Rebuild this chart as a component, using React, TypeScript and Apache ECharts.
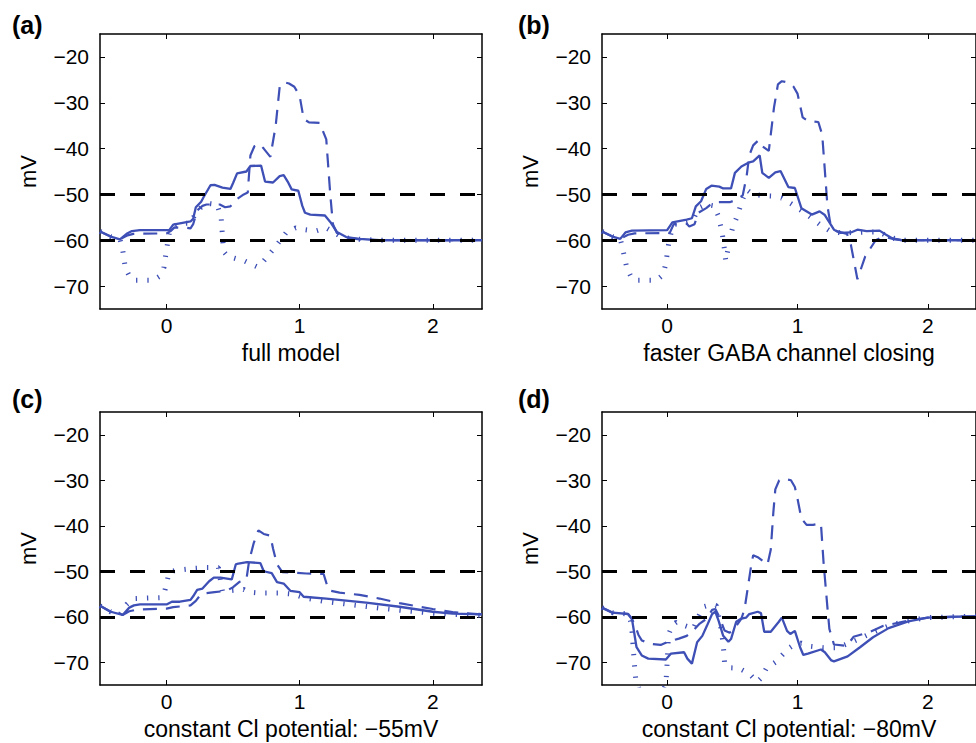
import React, { useEffect, useRef } from 'react';
import * as echarts from 'echarts';

// ---------- data ----------
const xTicks = [0, 1, 2];
const yTicks = [-70, -60, -50, -40, -30, -20];
const thresholds = [-50, -60];
const xMin = -0.5;
const xMax = 2.37;
const yMin = -75;
const yMax = -15;

// panel (a) full model  [time, mV]
const aSolid = [[-0.5,-58.1],[-0.42,-59.2],[-0.35,-59.8],[-0.3,-58.6],[-0.26,-58.0],[-0.2,-57.8],[0.02,-57.8],[0.05,-56.6],[0.1,-56.3],[0.18,-55.9],[0.2,-55.3],[0.22,-52.8],[0.26,-51.6],[0.28,-50.5],[0.33,-48.0],[0.36,-47.9],[0.42,-48.5],[0.48,-48.8],[0.5,-47.5],[0.53,-45.4],[0.6,-45.0],[0.63,-43.8],[0.71,-43.7],[0.74,-47.2],[0.8,-47.4],[0.85,-46.0],[0.88,-45.8],[0.91,-47.2],[0.94,-48.9],[0.99,-49.2],[1.02,-52.5],[1.04,-54.0],[1.08,-54.4],[1.19,-54.6],[1.23,-56.0],[1.28,-58.2],[1.35,-59.3],[1.45,-59.7],[1.6,-60.0],[2.37,-60.0]];
const aDashed = [[-0.5,-58.1],[-0.42,-59.2],[-0.35,-59.8],[-0.3,-59.0],[-0.25,-58.6],[0.0,-58.5],[0.03,-58.0],[0.06,-57.2],[0.15,-57.3],[0.18,-57.4],[0.2,-56.5],[0.23,-53.5],[0.27,-52.5],[0.3,-52.2],[0.4,-52.2],[0.44,-52.8],[0.48,-52.6],[0.53,-51.0],[0.58,-50.0],[0.61,-49.6],[0.63,-41.5],[0.66,-39.5],[0.7,-39.0],[0.73,-40.0],[0.78,-41.8],[0.82,-35.0],[0.85,-26.5],[0.88,-25.5],[0.92,-25.8],[0.96,-26.5],[1.0,-28.5],[1.03,-33.5],[1.07,-34.3],[1.15,-34.4],[1.2,-38.0],[1.23,-50.0],[1.25,-56.5],[1.28,-58.4],[1.35,-59.4],[1.45,-59.8],[1.6,-60.0],[2.37,-60.0]];
const aDotted = [[-0.5,-58.1],[-0.42,-59.2],[-0.35,-59.8],[-0.33,-62.0],[-0.31,-66.0],[-0.28,-67.8],[-0.24,-68.7],[-0.1,-68.7],[-0.05,-67.8],[-0.02,-66.0],[0.0,-62.0],[0.02,-58.5],[0.05,-57.0],[0.1,-56.3],[0.18,-56.3],[0.22,-54.0],[0.27,-52.5],[0.32,-52.0],[0.38,-52.2],[0.41,-55.0],[0.42,-59.0],[0.43,-62.5],[0.46,-63.5],[0.52,-64.0],[0.57,-64.3],[0.62,-65.0],[0.68,-65.8],[0.73,-64.5],[0.79,-62.4],[0.85,-60.2],[0.9,-58.3],[0.97,-57.3],[1.04,-57.7],[1.12,-58.0],[1.2,-57.3],[1.26,-58.3],[1.32,-59.4],[1.45,-59.8],[1.6,-60.0],[2.37,-60.0]];

// panel (b) faster GABA channel closing
const bSolid = [[-0.5,-58.1],[-0.42,-59.2],[-0.36,-59.7],[-0.32,-58.3],[-0.27,-57.9],[0.0,-57.8],[0.04,-56.1],[0.15,-55.5],[0.19,-55.2],[0.22,-52.6],[0.26,-51.5],[0.3,-48.8],[0.34,-48.1],[0.4,-48.3],[0.43,-48.7],[0.49,-48.7],[0.52,-45.3],[0.57,-43.9],[0.63,-43.0],[0.66,-42.8],[0.71,-41.5],[0.73,-45.3],[0.78,-46.4],[0.83,-45.2],[0.87,-44.9],[0.93,-48.4],[0.98,-48.6],[1.03,-53.0],[1.11,-54.4],[1.17,-53.7],[1.21,-54.5],[1.28,-57.7],[1.33,-58.4],[1.41,-58.3],[1.46,-57.7],[1.53,-58.0],[1.63,-57.9],[1.68,-58.8],[1.73,-59.6],[1.8,-60.0],[2.37,-60.0]];
const bDashed = [[-0.5,-58.1],[-0.42,-59.2],[-0.36,-59.7],[-0.3,-58.8],[-0.25,-58.5],[0.02,-58.4],[0.05,-56.5],[0.15,-56.4],[0.17,-57.0],[0.21,-56.5],[0.24,-54.0],[0.3,-53.0],[0.33,-52.3],[0.38,-51.7],[0.48,-51.7],[0.53,-51.2],[0.58,-50.2],[0.61,-46.0],[0.63,-41.5],[0.66,-39.3],[0.7,-38.2],[0.73,-39.5],[0.78,-40.5],[0.82,-31.0],[0.85,-26.0],[0.88,-25.3],[0.93,-25.6],[0.97,-26.5],[1.0,-28.0],[1.04,-33.2],[1.08,-34.0],[1.16,-34.2],[1.19,-37.0],[1.23,-52.5],[1.25,-56.0],[1.3,-58.0],[1.38,-58.6],[1.41,-61.0],[1.46,-68.5],[1.52,-63.5],[1.6,-60.0],[1.66,-59.2],[1.75,-59.8],[1.82,-60.0],[2.37,-60.0]];
const bDotted = [[-0.5,-58.1],[-0.42,-59.2],[-0.36,-59.7],[-0.34,-62.0],[-0.31,-66.0],[-0.28,-67.8],[-0.25,-68.7],[-0.08,-68.7],[-0.03,-67.5],[-0.01,-65.0],[0.01,-61.0],[0.03,-58.4],[0.06,-56.5],[0.15,-56.0],[0.2,-55.5],[0.24,-53.0],[0.3,-52.2],[0.36,-52.5],[0.39,-54.5],[0.42,-58.0],[0.44,-62.0],[0.45,-64.5],[0.47,-61.5],[0.5,-57.5],[0.54,-54.5],[0.58,-51.0],[0.61,-49.0],[0.66,-50.0],[0.75,-50.3],[0.82,-50.4],[0.88,-50.8],[0.95,-52.0],[1.03,-53.5],[1.1,-55.0],[1.17,-56.5],[1.24,-57.8],[1.33,-58.4],[1.45,-58.3],[1.53,-58.2],[1.63,-58.2],[1.7,-59.3],[1.8,-60.0],[2.37,-60.0]];

// panel (c) constant Cl potential -55mV
const cSolid = [[-0.5,-57.6],[-0.42,-58.9],[-0.33,-59.6],[-0.28,-58.0],[-0.245,-57.5],[-0.2,-57.3],[0.0,-57.3],[0.04,-56.7],[0.1,-56.7],[0.18,-56.3],[0.2,-55.5],[0.23,-54.1],[0.27,-53.8],[0.32,-52.2],[0.355,-51.4],[0.405,-51.4],[0.49,-51.8],[0.52,-48.5],[0.54,-48.3],[0.605,-48.0],[0.705,-48.2],[0.73,-50.0],[0.79,-50.4],[0.83,-52.4],[0.88,-52.7],[0.93,-54.3],[1.0,-54.6],[1.03,-55.6],[1.2,-56.0],[1.5,-56.9],[1.75,-57.8],[2.0,-58.9],[2.15,-59.3],[2.37,-59.5]];
const cDashed = [[-0.5,-57.6],[-0.42,-58.9],[-0.33,-59.6],[-0.28,-58.8],[-0.22,-58.4],[0.0,-58.2],[0.05,-57.9],[0.18,-57.5],[0.22,-56.5],[0.26,-55.0],[0.3,-54.8],[0.36,-54.6],[0.45,-54.3],[0.5,-53.5],[0.55,-52.3],[0.6,-51.8],[0.62,-47.8],[0.655,-43.8],[0.69,-41.0],[0.73,-41.8],[0.78,-42.2],[0.8,-45.0],[0.83,-48.5],[0.87,-50.2],[0.95,-50.3],[1.05,-50.5],[1.18,-50.6],[1.2,-52.5],[1.22,-54.2],[1.3,-54.7],[1.45,-55.2],[1.6,-56.0],[1.75,-57.0],[1.9,-57.8],[2.0,-58.3],[2.15,-59.0],[2.37,-59.5]];
const cDotted = [[-0.5,-57.6],[-0.42,-58.9],[-0.35,-59.5],[-0.3,-57.3],[-0.25,-56.0],[-0.05,-55.8],[-0.02,-55.1],[0.0,-52.7],[0.02,-50.2],[0.07,-49.8],[0.2,-49.4],[0.3,-49.2],[0.39,-49.2],[0.405,-52.0],[0.42,-54.4],[0.5,-54.2],[0.58,-54.0],[0.62,-54.6],[0.7,-54.8],[0.85,-54.8],[0.95,-55.0],[1.03,-55.8],[1.18,-56.6],[1.4,-57.4],[1.6,-58.1],[1.8,-58.7],[2.0,-59.2],[2.15,-59.5],[2.37,-59.7]];

// panel (d) constant Cl potential -80mV
const dSolid = [[-0.5,-58.0],[-0.42,-59.1],[-0.3,-59.4],[-0.27,-60.5],[-0.235,-66.7],[-0.195,-68.5],[-0.145,-69.2],[-0.01,-69.4],[0.03,-68.1],[0.13,-67.8],[0.155,-69.2],[0.19,-70.3],[0.23,-65.6],[0.27,-64.2],[0.305,-62.0],[0.345,-59.4],[0.37,-58.9],[0.395,-60.9],[0.43,-64.2],[0.47,-65.5],[0.49,-64.9],[0.53,-61.1],[0.57,-60.4],[0.605,-60.2],[0.63,-59.4],[0.695,-58.9],[0.72,-59.2],[0.745,-63.3],[0.795,-63.3],[0.857,-61.1],[0.88,-60.2],[0.92,-63.1],[0.945,-63.8],[0.98,-63.1],[1.02,-66.7],[1.045,-68.4],[1.08,-68.1],[1.18,-67.2],[1.21,-67.8],[1.26,-69.6],[1.28,-69.8],[1.385,-68.7],[1.48,-66.7],[1.58,-64.5],[1.7,-62.5],[1.85,-61.0],[2.0,-60.2],[2.2,-60.0],[2.37,-59.9]];
const dDashed = [[-0.5,-58.0],[-0.42,-59.1],[-0.3,-59.4],[-0.27,-60.5],[-0.245,-62.0],[-0.22,-64.0],[-0.195,-65.2],[-0.12,-66.0],[-0.05,-66.2],[0.0,-65.6],[0.09,-64.8],[0.15,-64.2],[0.2,-63.0],[0.25,-61.5],[0.3,-60.5],[0.345,-58.5],[0.37,-58.3],[0.4,-60.0],[0.44,-63.0],[0.48,-63.5],[0.5,-63.0],[0.53,-62.0],[0.57,-60.4],[0.594,-58.3],[0.644,-48.9],[0.66,-46.5],[0.7,-47.0],[0.77,-48.5],[0.795,-45.3],[0.815,-37.0],[0.83,-32.0],[0.86,-30.0],[0.9,-29.7],[0.95,-30.0],[0.98,-31.5],[1.0,-34.0],[1.03,-38.4],[1.07,-39.8],[1.12,-39.8],[1.18,-39.5],[1.2,-48.0],[1.23,-58.0],[1.245,-62.7],[1.28,-66.1],[1.38,-66.4],[1.43,-64.4],[1.56,-63.3],[1.66,-62.0],[1.78,-61.3],[1.88,-60.7],[2.0,-60.2],[2.2,-60.0],[2.37,-59.9]];
const dDotted = [[-0.5,-58.0],[-0.42,-59.1],[-0.3,-59.4],[-0.28,-61.0],[-0.27,-63.0],[-0.26,-67.0],[-0.25,-71.0],[-0.24,-74.0],[-0.2,-77.0],[-0.05,-77.0],[-0.01,-75.0],[0.0,-70.0],[0.01,-64.0],[0.04,-61.8],[0.07,-61.2],[0.1,-61.6],[0.16,-62.2],[0.2,-62.7],[0.24,-60.0],[0.28,-57.8],[0.34,-57.3],[0.38,-57.6],[0.41,-62.0],[0.43,-66.0],[0.44,-70.0],[0.47,-71.2],[0.55,-71.3],[0.63,-72.5],[0.69,-74.3],[0.72,-73.5],[0.76,-71.4],[0.83,-70.0],[0.88,-68.5],[0.93,-67.0],[0.98,-66.0],[1.03,-65.8],[1.1,-66.5],[1.2,-66.8],[1.3,-66.8],[1.4,-65.8],[1.5,-64.5],[1.6,-63.2],[1.7,-62.0],[1.8,-61.2],[1.9,-60.6],[2.0,-60.2],[2.2,-60.0],[2.37,-59.9]];

// ---------- styling / layout ----------
const BLUE = '#3e4fb6';
const FONT = '"Liberation Sans", Arial, Helvetica, sans-serif';
const PLOT_W = 382;

const panels = [
  { label: '(a)', xName: 'full model', solid: aSolid, dashed: aDashed, dotted: aDotted, left: 100, top: 34, height: 275, labelLeft: 12, labelTop: 12 },
  { label: '(b)', xName: 'faster GABA channel closing', solid: bSolid, dashed: bDashed, dotted: bDotted, left: 602, top: 34, height: 275, labelLeft: 518, labelTop: 12 },
  { label: '(c)', xName: 'constant Cl potential: \u221255mV', solid: cSolid, dashed: cDashed, dotted: cDotted, left: 100, top: 412, height: 273, labelLeft: 12, labelTop: 386 },
  { label: '(d)', xName: 'constant Cl potential: \u221280mV', solid: dSolid, dashed: dDashed, dotted: dDotted, left: 602, top: 412, height: 273, labelLeft: 518, labelTop: 386 },
];

const fmtY = (v: number) => (v < 0 ? '\u2212' + Math.abs(v) : String(v));

function buildOption() {
  const grid: any[] = [];
  const xAxis: any[] = [];
  const yAxis: any[] = [];
  const series: any[] = [];
  const title: any[] = [];
  const axisLine = { show: true, onZero: false, lineStyle: { color: '#000', width: 1.5 } };
  panels.forEach((p, i) => {
    grid.push({ left: p.left, top: p.top, width: PLOT_W, height: p.height, containLabel: false });
    title.push({ text: p.label, left: p.labelLeft, top: p.labelTop, padding: 0, textStyle: { fontSize: 25, fontWeight: 'bold', color: '#000', fontFamily: FONT } });
    xAxis.push({
      type: 'value', gridIndex: i, position: 'bottom', min: xMin, max: xMax,
      name: p.xName, nameLocation: 'middle', nameGap: 32,
      nameTextStyle: { fontSize: 23, color: '#000', fontFamily: FONT },
      axisLine, splitLine: { show: false },
      axisTick: { show: true, inside: true, length: 5, customValues: xTicks, lineStyle: { color: '#000', width: 1 } },
      axisLabel: { show: true, customValues: xTicks, margin: 6, fontSize: 21, color: '#000', fontFamily: FONT },
    });
    xAxis.push({
      type: 'value', gridIndex: i, position: 'top', min: xMin, max: xMax,
      axisLine, splitLine: { show: false },
      axisTick: { show: true, inside: true, length: 5, customValues: xTicks, lineStyle: { color: '#000', width: 1 } },
      axisLabel: { show: false },
    });
    yAxis.push({
      type: 'value', gridIndex: i, position: 'left', min: yMin, max: yMax,
      name: 'mV', nameLocation: 'middle', nameGap: 61,
      nameTextStyle: { fontSize: 22, color: '#000', fontFamily: FONT },
      axisLine, splitLine: { show: false },
      axisTick: { show: true, inside: true, length: 5, customValues: yTicks, lineStyle: { color: '#000', width: 1 } },
      axisLabel: { show: true, customValues: yTicks, margin: 11, fontSize: 21, color: '#000', fontFamily: FONT, formatter: fmtY },
    });
    yAxis.push({
      type: 'value', gridIndex: i, position: 'right', min: yMin, max: yMax,
      axisLine, splitLine: { show: false },
      axisTick: { show: true, inside: true, length: 5, customValues: yTicks, lineStyle: { color: '#000', width: 1 } },
      axisLabel: { show: false },
    });
    const base = { type: 'line', xAxisIndex: 2 * i, yAxisIndex: 2 * i, showSymbol: false, symbol: 'none', silent: true, clip: true, smooth: false };
    series.push({ ...base, data: p.dotted, lineStyle: { color: BLUE, width: 5, type: [1.3, 10], cap: 'butt' } });
    series.push({ ...base, data: p.dashed, lineStyle: { color: BLUE, width: 2.2, type: [14, 9] } });
    series.push({ ...base, data: p.solid, lineStyle: { color: BLUE, width: 2.3 } });
    series.push({
      ...base, data: [],
      markLine: {
        silent: true, symbol: ['none', 'none'], label: { show: false },
        lineStyle: { color: '#000', width: 3, type: [15, 15] },
        data: thresholds.map((t) => ({ yAxis: t })),
      },
    });
  });
  return { animation: false, backgroundColor: '#fff', title, grid, xAxis, yAxis, series };
}

export default function App() {
  const ref = useRef<HTMLDivElement>(null);
  useEffect(() => {
    if (!ref.current) return;
    const chart = echarts.init(ref.current, null, { renderer: 'svg' });
    chart.setOption(buildOption() as any);
    return () => chart.dispose();
  }, []);
  return (
    <div
      ref={ref}
      style={{ position: 'absolute', left: 0, top: 0, width: 976, height: 743, background: '#fff' }}
    />
  );
}
